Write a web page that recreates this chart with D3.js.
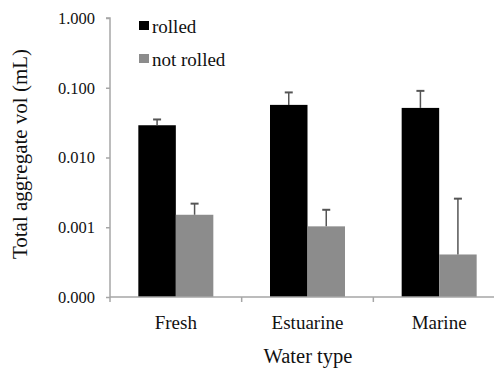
<!DOCTYPE html>
<html><head><meta charset="utf-8">
<script src="https://cdn.jsdelivr.net/npm/d3@7"></script>
<style>body{margin:0;background:#fff}svg text{font-family:"Liberation Serif","Times New Roman",Times,"DejaVu Serif",serif !important}</style>
</head><body><svg id="c" width="494" height="368"></svg>
<script>
const categories = ["Fresh", "Estuarine", "Marine"];
const seriesNames = ["rolled", "not rolled"];
const rolled = [0.0290, 0.0568, 0.0514];
const rolledErr = [0.0351, 0.0857, 0.0902];
const notRolled = [0.00151, 0.00103, 0.000407];
const notRolledErr = [0.00218, 0.00178, 0.00257];
const yTicks = [1, 0.1, 0.01, 0.001, 0.0001];
const yTickLabels = ["1.000", "0.100", "0.010", "0.001", "0.000"];
const colors = ["#000000", "#8c8c8c"];

(function () {
const FF = '"Liberation Serif","Times New Roman",Times,"DejaVu Serif",serif';
const svg = d3.select("#c");
const mLeft = 110, mRight = 505, mTop = 18, mBottom = 297;
const x = d3.scaleBand().domain(categories).range([mLeft, mRight]).paddingInner(0).paddingOuter(0);
const y = d3.scaleLog().domain([0.0001, 1]).range([mBottom, mTop]);
const x1 = d3.scaleBand().domain(seriesNames).range([0, 75]);
const off = (x.bandwidth() - 75) / 2;

const series = [
  {name: seriesNames[0], vals: rolled, err: rolledErr, color: colors[0]},
  {name: seriesNames[1], vals: notRolled, err: notRolledErr, color: colors[1]}
];

series.forEach(s => {
  svg.append("g").selectAll("rect").data(categories).join("rect")
    .attr("x", d => x(d) + off + x1(s.name))
    .attr("width", x1.bandwidth())
    .attr("y", (d, i) => y(s.vals[i]))
    .attr("height", (d, i) => mBottom - y(s.vals[i]))
    .attr("fill", s.color);
  const g = svg.append("g").attr("stroke", "#555").attr("stroke-width", 1.5);
  categories.forEach((c, i) => {
    const cx = x(c) + off + x1(s.name) + x1.bandwidth() / 2;
    g.append("line").attr("x1", cx).attr("x2", cx).attr("y1", y(s.vals[i])).attr("y2", y(s.err[i]));
    g.append("line").attr("x1", cx - 4).attr("x2", cx + 4).attr("y1", y(s.err[i])).attr("y2", y(s.err[i])).attr("stroke-width", 2);
  });
});

const yAxis = d3.axisLeft(y).tickValues(yTicks).tickFormat((d, i) => yTickLabels[i]).tickSize(4).tickPadding(11);
const ya = svg.append("g").attr("transform", `translate(${mLeft},0)`).call(yAxis).attr("font-family", null);
ya.select(".domain").attr("stroke", "#a6a6a6").attr("stroke-width", 1.5).attr("d", `M-4,${mTop}H0V${mBottom}`);
ya.selectAll(".tick line").attr("stroke", "#a6a6a6").attr("stroke-width", 1.5);
ya.selectAll(".tick text").attr("font-size", 16.5).attr("fill", "#111").style("font-family", FF);

const xa = svg.append("g");
xa.append("line").attr("x1", mLeft).attr("x2", mRight).attr("y1", mBottom).attr("y2", mBottom).attr("stroke", "#a6a6a6").attr("stroke-width", 1.5);
const bounds = [mLeft].concat(categories.map(c => x(c) + x.bandwidth()));
xa.selectAll("line.t").data(bounds).join("line").attr("class", "t")
  .attr("x1", d => d).attr("x2", d => d).attr("y1", mBottom).attr("y2", mBottom + 5).attr("stroke", "#a6a6a6").attr("stroke-width", 1.5);
xa.selectAll("text").data(categories).join("text")
  .attr("x", d => x(d) + x.bandwidth() / 2).attr("y", 329)
  .attr("text-anchor", "middle").attr("font-size", 19).attr("fill", "#111").style("font-family", FF).text(d => d);

svg.append("text").attr("x", 308).attr("y", 363).attr("text-anchor", "middle").attr("font-size", 20.5).attr("fill", "#111").style("font-family", FF).text("Water type");
svg.append("text").attr("transform", "translate(27,154) rotate(-90)").attr("text-anchor", "middle").attr("font-size", 21).attr("fill", "#111").style("font-family", FF).text("Total aggregate vol (mL)");

const leg = svg.append("g");
series.forEach((s, i) => {
  const ly = 33 + i * 33;
  leg.append("rect").attr("x", 139).attr("y", ly - 12).attr("width", 10).attr("height", 9).attr("fill", s.color);
  leg.append("text").attr("x", 152).attr("y", ly).attr("font-size", 19).attr("fill", "#111").style("font-family", FF).text(s.name);
});
})();
</script></body></html>
